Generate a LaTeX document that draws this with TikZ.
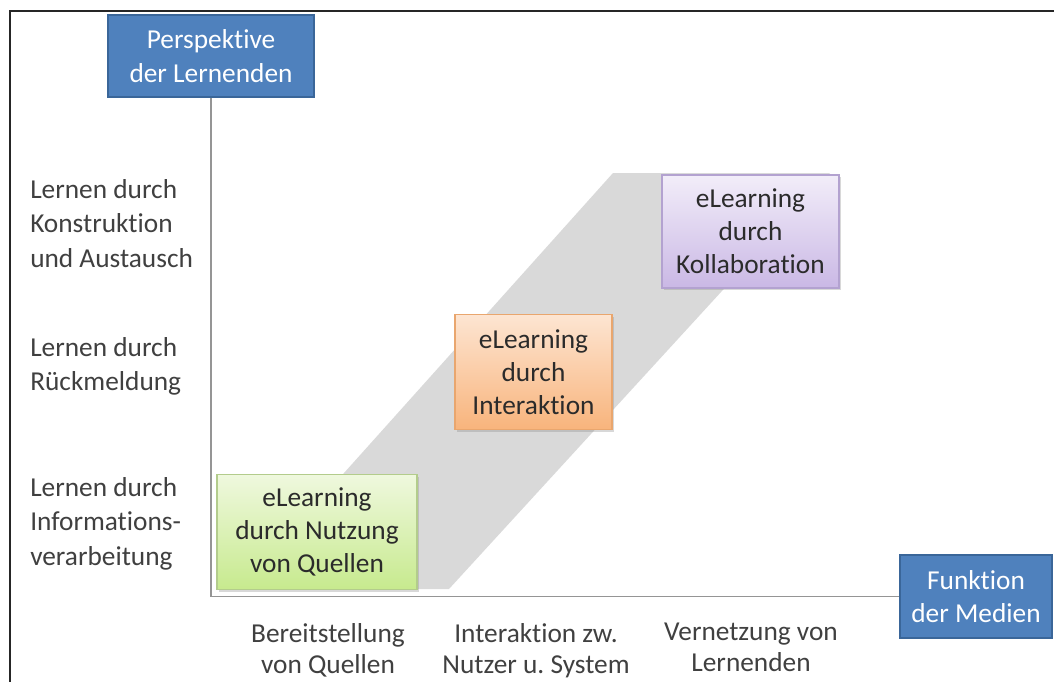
\documentclass[tikz,border=0pt]{standalone}
\usepackage{fontspec}
\setmainfont{Carlito}[Ligatures=NoCommon]
\frenchspacing
\usetikzlibrary{shadows}
\definecolor{hdrblue}{HTML}{4F81BD}
\definecolor{hdrborder}{HTML}{3A6699}
\definecolor{labelgray}{HTML}{404040}
\definecolor{boxtext}{HTML}{2B2B2B}
\definecolor{bandgray}{HTML}{D9D9D9}
\definecolor{axisgray}{HTML}{959595}
\definecolor{grtop}{HTML}{EFF8DE}
\definecolor{grbot}{HTML}{C7EA8E}
\definecolor{grline}{HTML}{B3CC8C}
\definecolor{ortop}{HTML}{FDE5D2}
\definecolor{orbot}{HTML}{F8B47C}
\definecolor{orline}{HTML}{E9A66E}
\definecolor{putop}{HTML}{F2EDF9}
\definecolor{pubot}{HTML}{CAB8E5}
\definecolor{puline}{HTML}{B3A2D0}
\begin{document}
\begin{tikzpicture}[x=0.75pt,y=-0.75pt,
  lbl/.style={font=\fontsize{20.5}{25.9}\selectfont, text=labelgray, align=left, anchor=north west, inner sep=0pt},
  btm/.style={font=\fontsize{20.5}{23.3}\selectfont, text=labelgray, align=center, anchor=north, inner sep=0pt},
  hdr/.style={draw=hdrborder, line width=1pt, fill=hdrblue, text=white, align=center,
    font=\fontsize{20.5}{25}\selectfont, inner sep=0pt,
    drop shadow={shadow xshift=1pt, shadow yshift=-1pt, opacity=0.3}},
  ebox/.style={line width=0.8pt, text=boxtext, align=center,
    font=\fontsize{20.5}{24.8}\selectfont, inner sep=0pt,
    drop shadow={shadow xshift=1.5pt, shadow yshift=-1.5pt, opacity=0.3}},
  axis/.style={draw=axisgray, line width=1.3pt},
  frameline/.style={draw=black!85, line width=2.2pt}]
\useasboundingbox (0,0) rectangle (1054,682);
\fill[white] (0,0) rectangle (1054,682);
% frame
\draw[frameline] (10,682) -- (10,11) -- (1054,11);
% grey band
\fill[bandgray] (613,173) -- (830,173) -- (449,589) -- (240,589) -- cycle;
% axis boxes
\node[hdr, minimum width=206*0.75pt, minimum height=82*0.75pt] (persp) at (211,56) {Perspektive\\der Lernenden};
\node[hdr, minimum width=152*0.75pt, minimum height=83*0.75pt] (funk) at (976,596.5) {Funktion\\der Medien};
\draw[axis] (persp.south) |- (funk.west);
% eLearning boxes
\node[ebox, draw=grline, top color=grtop, bottom color=grbot, minimum width=200*0.75pt, minimum height=115*0.75pt] (quellen) at (317,532) {eLearning\\durch Nutzung\\von Quellen};
\node[ebox, draw=orline, top color=ortop, bottom color=orbot, minimum width=157*0.75pt, minimum height=115*0.75pt] (inter) at (533.5,372) {eLearning\\durch\\Interaktion};
\node[ebox, draw=puline, top color=putop, bottom color=pubot, minimum width=177*0.75pt, minimum height=113*0.75pt] (kollab) at (750.5,231.5) {eLearning\\durch\\Kollaboration};
% left labels
\node[lbl] (l1) at (30,179) {Lernen durch\\Konstruktion\\und Austausch};
\node[lbl] (l2) at (30,337) {Lernen durch\\Rückmeldung};
\node[lbl] (l3) at (30,477) {Lernen durch\\Informations-\\verarbeitung};
% bottom labels
\node[btm] (b1) at (328,623) {Bereitstellung\\von Quellen};
\node[btm] (b2) at (536,623) {Interaktion zw.\\Nutzer u. System};
\node[btm] (b3) at (751,623) {Vernetzung von\\Lernenden};
\end{tikzpicture}
\end{document}
